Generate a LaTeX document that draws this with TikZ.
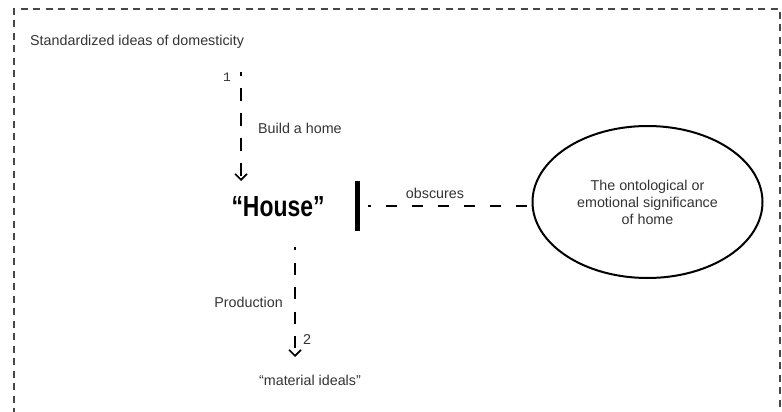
\documentclass[tikz,border=0pt]{standalone}
\usepackage{fontspec}
\usepackage{graphicx}
\setmainfont{Liberation Sans}
\newfontfamily\monof{Liberation Mono}
\usetikzlibrary{arrows.meta,shapes.geometric}
\definecolor{txt}{gray}{0.2}
\definecolor{framec}{gray}{0.28}
\begin{document}
\begin{tikzpicture}[x=1pt,y=-1pt,
  lbl/.style={font=\fontsize{14.3}{17}\selectfont, text=txt, inner sep=0pt},
  flow/.style={line width=2pt, dash pattern=on 13pt off 12pt, dash phase=9pt,
    -{Straight Barb[length=6pt,width=12pt,line width=1.6pt]}},
  obsline/.style={line width=2pt, dash pattern=on 11pt off 15pt, dash phase=8pt},
  framebox/.style={draw=framec, line width=2.2pt, dash pattern=on 7pt off 5.5pt}
]
\useasboundingbox (0,0) rectangle (782,412);
% outer dashed frame (open at the bottom)
\draw[framebox] (14,440) -- (14,9) -- (780,9) -- (780,440);

\node[lbl, anchor=west] (title) at (30,42) {Standardized ideas of domesticity};

% top arrow
\node[font=\monof\fontsize{13}{13}\selectfont, text=txt, inner sep=0pt] (n1) at (227,77) {1};
\coordinate (a1s) at (241,72);
\coordinate (a1e) at (241,181);
\draw[flow] (a1s) -- (a1e);
\node[lbl, anchor=west] (build) at (258,128) {Build a home};

% House
\node[font=\fontsize{29}{29}\selectfont\bfseries, text=black, inner sep=0pt] (house) at (278,207)
  {\scalebox{0.79}[1]{“House”}};

% bar and obscures line
\node[fill=black, minimum width=5pt, minimum height=50pt, inner sep=0pt] (bar) at (357.5,206) {};
\node[ellipse, draw, line width=2pt, minimum width=230pt, minimum height=152pt,
  lbl, align=center] (sig) at (647.5,202)
  {The ontological or\\emotional significance\\of home};
\draw[obsline] ([xshift=8pt]bar.east) -- ([xshift=-3pt]bar -| sig.west);
\node[lbl] (obs) at (435,193) {obscures};

% bottom arrow
\coordinate (a2s) at (295,247);
\coordinate (a2e) at (295,357);
\draw[flow, dash pattern=on 12pt off 12.5pt, dash phase=9pt] (a2s) -- (a2e);
\node[lbl] (n2) at (307,340) {2};
\node[lbl, anchor=east] (prod) at (283,302) {Production};
\node[lbl] (mat) at (310,380) {“material ideals”};
\end{tikzpicture}
\end{document}
